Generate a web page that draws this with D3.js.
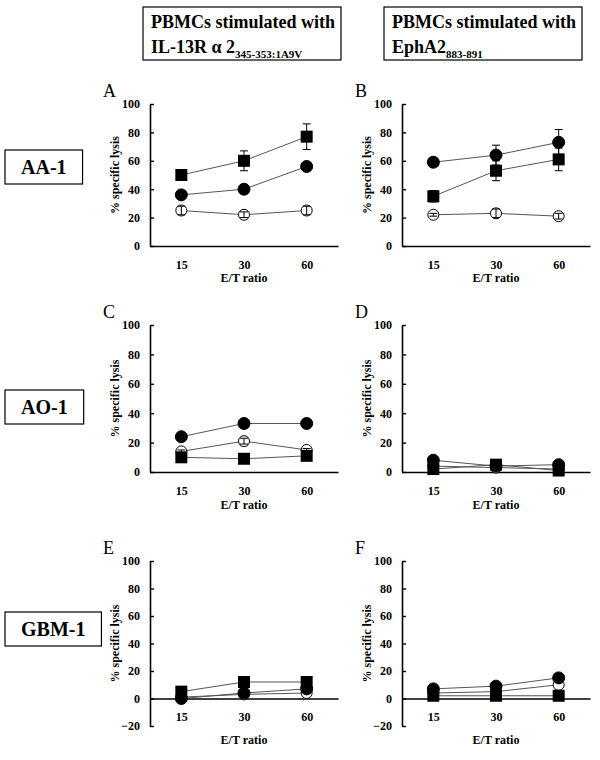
<!DOCTYPE html>
<html>
<head>
<meta charset="utf-8">
<script src="https://cdn.jsdelivr.net/npm/d3@7"></script>
<style>
body { margin: 0; background: #fff; }
svg { display: block; font-family: "Liberation Serif", "Times New Roman", serif; }
</style>
</head>
<body>
<svg id="fig" width="600" height="760"></svg>
<script>
// valeurs
const ratios = ["15", "30", "60"];
const ticksPos = [0, 20, 40, 60, 80, 100];
const ticksNeg = [-20, 0, 20, 40, 60, 80, 100];
const rowLabels = ["AA-1", "AO-1", "GBM-1"];
const letters = ["A", "B", "C", "D", "E", "F"];

// A : AA-1, IL-13R
const aSquare = [50, 60, 77], aSquareErr = [2, 7, 9];
const aFilled = [36, 40, 56], aFilledErr = [2, 2, 2];
const aOpen = [25, 22, 25], aOpenErr = [3, 2, 3];
// B : AA-1, EphA2
const bSquare = [35, 53, 61], bSquareErr = [4, 7, 8];
const bFilled = [59, 64, 73], bFilledErr = [3, 7, 9];
const bOpen = [22, 23, 21], bOpenErr = [1, 3, 2];
// C : AO-1, IL-13R
const cSquare = [10, 9, 11], cSquareErr = [1, 1, 1];
const cFilled = [24, 33, 33], cFilledErr = [1, 1, 1];
const cOpen = [14, 21, 15], cOpenErr = [1, 2, 1];
// D : AO-1, EphA2
const dSquare = [2, 5, 1], dFilled = [8, 4, 5], dOpen = [4, 3, 2];
// E : GBM-1, IL-13R
const eSquare = [5, 12, 12], eFilled = [0, 4, 7], eOpen = [1, 3, 4];
// F : GBM-1, EphA2
const fSquare = [2, 2, 2], fFilled = [7, 9, 15], fOpen = [4, 5, 10];

const zeros = [0, 0, 0];

const panels = [
	{row: 0, col: 0, series: [[aOpen, aOpenErr, "open"], [aFilled, aFilledErr, "filled"], [aSquare, aSquareErr, "square"]]},
	{row: 0, col: 1, series: [[bOpen, bOpenErr, "open"], [bSquare, bSquareErr, "square"], [bFilled, bFilledErr, "filled"]]},
	{row: 1, col: 0, series: [[cOpen, cOpenErr, "open"], [cSquare, cSquareErr, "square"], [cFilled, cFilledErr, "filled"]]},
	{row: 1, col: 1, series: [[dOpen, zeros, "open"], [dSquare, zeros, "square"], [dFilled, zeros, "filled"]]},
	{row: 2, col: 0, series: [[eOpen, zeros, "open"], [eFilled, zeros, "filled"], [eSquare, zeros, "square"]]},
	{row: 2, col: 1, series: [[fOpen, zeros, "open"], [fSquare, zeros, "square"], [fFilled, zeros, "filled"]]}
];

// mise en page
const colX = [150, 402];
const plotW = 188;
const rows = [
	{top: 104, bottom: 246, dom: [0, 100], ticks: ticksPos, xTitle: 282, box: 150},
	{top: 325, bottom: 472, dom: [0, 100], ticks: ticksPos, xTitle: 509, box: 390},
	{top: 561, bottom: 726, dom: [-20, 100], ticks: ticksNeg, xTitle: 744, box: 612}
];

const svg = d3.select("#fig");

// en-têtes de colonnes
function header(x, line2, sub) {
	let g = svg.append("g");
	let t = g.append("text").attr("font-weight", "bold").attr("font-size", 18);
	t.append("tspan").attr("x", x + 8).attr("y", 28).text("PBMCs stimulated with");
	t.append("tspan").attr("x", x + 8).attr("y", 53).text(line2);
	t.append("tspan").attr("font-size", 11).attr("dy", 5).text(sub);
	let bb = t.node().getBBox();
	g.insert("rect", "text")
		.attr("x", x).attr("y", 7)
		.attr("width", bb.width + 14).attr("height", 53)
		.attr("fill", "none").attr("stroke", "#000").attr("stroke-width", 1.2);
}
header(143, "IL-13R \u03b1 2", "345-353:1A9V");
header(384, "EphA2", "883-891");

// étiquettes de lignes
rows.forEach((r, k) => {
	let g = svg.append("g");
	let t = g.append("text")
		.attr("font-weight", "bold").attr("font-size", 20)
		.attr("x", 21).attr("y", r.box + 24)
		.text(rowLabels[k]);
	let bb = t.node().getBBox();
	g.insert("rect", "text")
		.attr("x", 5).attr("y", r.box)
		.attr("width", bb.width + 32).attr("height", 34)
		.attr("fill", "none").attr("stroke", "#000").attr("stroke-width", 1.2);
});

// panneaux
panels.forEach((p, k) => {
	let r = rows[p.row];
	let x0 = colX[p.col];
	let g = svg.append("g");
	let x = d3.scalePoint().domain(ratios).range([x0, x0 + plotW]).padding(0.5);
	let y = d3.scaleLinear().domain(r.dom).range([r.bottom, r.top]);

	let ya = g.append("g")
		.attr("transform", `translate(${x0},0)`)
		.call(d3.axisLeft(y).tickValues(r.ticks).tickSizeInner(-4).tickSizeOuter(0).tickPadding(10));
	let xa = g.append("g")
		.attr("transform", `translate(0,${y(0)})`)
		.call(d3.axisBottom(x).tickSize(0).tickPadding(14));
	for (let a of [ya, xa]) {
		a.attr("font-family", null);
		a.select(".domain").attr("stroke-width", 1.6);
		a.selectAll("line").attr("stroke-width", 1.4);
		a.selectAll("text")
			.attr("font-weight", "bold")
			.attr("font-size", 12)
			.attr("fill", "#000");
	}

	g.append("text")
		.attr("x", x0 + plotW / 2).attr("y", r.xTitle)
		.attr("text-anchor", "middle")
		.attr("font-weight", "bold").attr("font-size", 12)
		.text("E/T ratio");
	g.append("text")
		.attr("transform", `translate(${x0 - 31},${(r.top + r.bottom) / 2}) rotate(-90)`)
		.attr("text-anchor", "middle")
		.attr("font-weight", "bold").attr("font-size", 12)
		.text("% specific lysis");
	g.append("text")
		.attr("x", x0 - 47).attr("y", r.top - 7)
		.attr("font-size", 18)
		.text(letters[k]);

	let line = d3.line().x((d, i) => x(ratios[i])).y(d => y(d));
	for (let [vals] of p.series) {
		g.append("path")
			.attr("d", line(vals))
			.attr("fill", "none")
			.attr("stroke", "#555")
			.attr("stroke-width", 1);
	}
	for (let [vals, err, shape] of p.series) {
		let m = g.append("g").selectAll("*").data(vals);
		if (shape === "square") {
			m.join("rect")
				.attr("x", (d, i) => x(ratios[i]) - 6)
				.attr("y", d => y(d) - 6)
				.attr("width", 12).attr("height", 12)
				.attr("fill", "#000");
		} else {
			m.join("circle")
				.attr("cx", (d, i) => x(ratios[i]))
				.attr("cy", d => y(d))
				.attr("r", shape === "open" ? 5.5 : 6)
				.attr("fill", shape === "open" ? "#fff" : "#000")
				.attr("stroke", "#000").attr("stroke-width", 1);
		}
	}
	// barres d'erreur
	for (let [vals, err] of p.series) {
		vals.forEach((v, i) => {
			if (!err[i]) return;
			let cx = x(ratios[i]), lo = y(v - err[i]), hi = y(v + err[i]);
			g.append("path")
				.attr("d", `M${cx},${lo}V${hi}M${cx - 4},${lo}H${cx + 4}M${cx - 4},${hi}H${cx + 4}`)
				.attr("fill", "none").attr("stroke", "#000").attr("stroke-width", 1);
		});
	}
});
</script>
</body>
</html>
